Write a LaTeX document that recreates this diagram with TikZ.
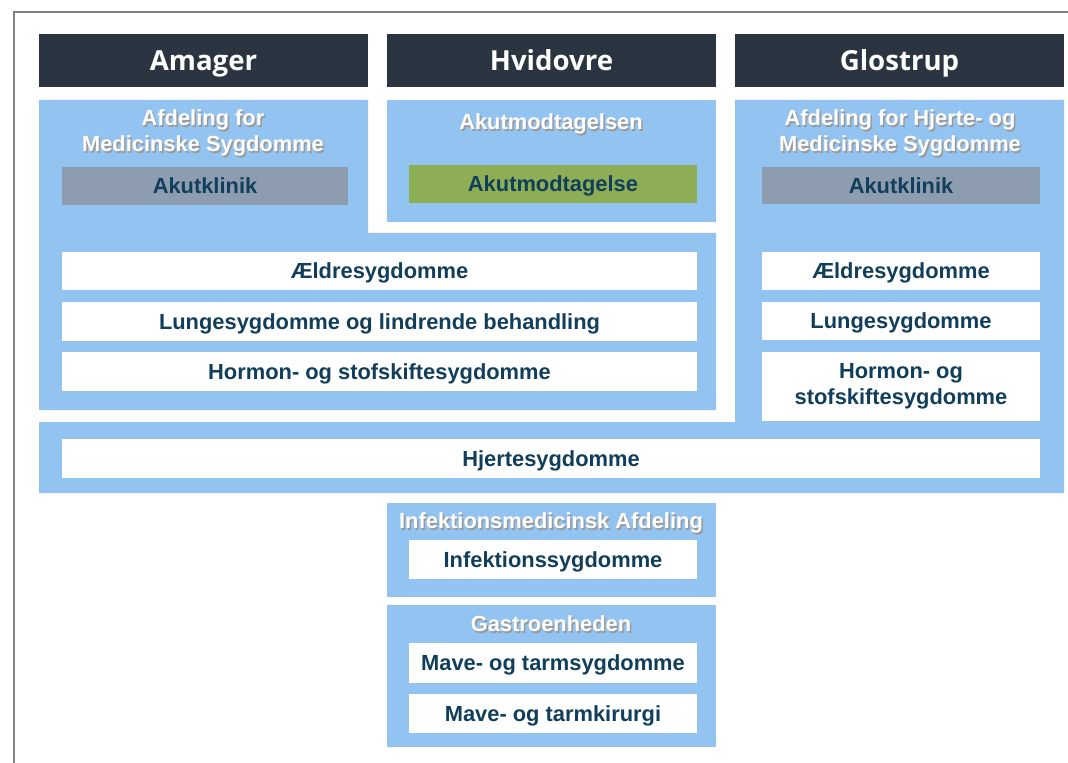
\documentclass[tikz,border=0pt]{standalone}
\usepackage{fontspec}
\setmainfont{Liberation Sans}
\newfontfamily\headfont{Open Sans}
\definecolor{headbg}{HTML}{2B3541}
\definecolor{deptblue}{HTML}{93C4F1}
\definecolor{klinikgray}{HTML}{8E9CB0}
\definecolor{modtgreen}{HTML}{8DAE55}
\definecolor{unittext}{HTML}{113F5B}
\tikzset{
  header/.style={fill=headbg,text=white,inner sep=0pt,minimum width=246.75pt,minimum height=39.75pt,text height=14.8pt,text depth=0pt,font=\headfont\bfseries\fontsize{20.7}{24}\selectfont},
  unit/.style={fill=white,text=unittext,inner sep=0pt,align=center,font=\bfseries\fontsize{16.4}{19.5}\selectfont},
  oneline/.style={text height=11.7pt,text depth=0pt},
  klinik/.style={unit,oneline,fill=klinikgray},
  modt/.style={unit,oneline,fill=modtgreen},
  dept/.style={text=white,inner sep=0pt,align=center,font=\bfseries\fontsize{16.4}{19.5}\selectfont},
  deptshadow/.style={dept,text=black!40}
}
\begin{document}
\begin{tikzpicture}[x=0.75pt,y=-0.75pt]
\useasboundingbox (0,0) rectangle (1068,763);
\fill[white] (0,0) rectangle (1068,763);
\draw[gray,line width=1pt] (14,763) -- (14,12) -- (1068,12);

% sites
\node[header] (amager) at (203.5,61) {Amager};
\node[header] (hvidovre) at (551.5,61) {Hvidovre};
\node[header] (glostrup) at (899.5,61) {Glostrup};

% department areas
\fill[deptblue] (39,100) -- (368,100) -- (368,233) -- (716,233) -- (716,410) -- (39,410) -- cycle;
\fill[deptblue] (387,100) rectangle (716,222);
\fill[deptblue] (735,100) -- (1064,100) -- (1064,493) -- (39,493) -- (39,422) -- (735,422) -- cycle;
\fill[deptblue] (387,503) rectangle (716,597);
\fill[deptblue] (387,605) rectangle (716,747);

% department titles
\node[deptshadow] (amdept-s) at (204.5,134.5) {Afdeling for\\Medicinske Sygdomme};
\node[dept] (amdept) at (203,133) {Afdeling for\\Medicinske Sygdomme};
\node[deptshadow] (hvdept-s) at (552.5,125.5) {Akutmodtagelsen};
\node[dept] (hvdept) at (551,124) {Akutmodtagelsen};
\node[deptshadow] (gldept-s) at (901.5,134.5) {Afdeling for Hjerte- og\\Medicinske Sygdomme};
\node[dept] (gldept) at (900,133) {Afdeling for Hjerte- og\\Medicinske Sygdomme};
\node[deptshadow] (infdept-s) at (552.5,524.5) {Infektionsmedicinsk Afdeling};
\node[dept] (infdept) at (551,523) {Infektionsmedicinsk Afdeling};
\node[deptshadow] (gastro-s) at (552.5,625.5) {Gastroenheden};
\node[dept] (gastro) at (551,624) {Gastroenheden};

% acute units
\node[klinik,minimum width=214.5pt,minimum height=28.5pt] (amklinik) at (205,186) {Akutklinik};
\node[modt,minimum width=216pt,minimum height=28.5pt] (hvmodt) at (553,184) {Akutmodtagelse};
\node[klinik,minimum width=208.5pt,minimum height=27.75pt] (glklinik) at (901,185.5) {Akutklinik};

% specialties
\node[unit,oneline,minimum width=476.25pt,minimum height=28.5pt] (amaeldre) at (379.5,271) {Ældresygdomme};
\node[unit,oneline,minimum width=476.25pt,minimum height=29.25pt] (amlunge) at (379.5,321.5) {Lungesygdomme og lindrende behandling};
\node[unit,oneline,minimum width=476.25pt,minimum height=29.25pt] (amhormon) at (379.5,371.5) {Hormon- og stofskiftesygdomme};
\node[unit,oneline,minimum width=208.5pt,minimum height=28.5pt] (glaeldre) at (901,271) {Ældresygdomme};
\node[unit,oneline,minimum width=208.5pt,minimum height=28.5pt] (gllunge) at (901,321) {Lungesygdomme};
\node[unit,minimum width=208.5pt,minimum height=51.75pt] (glhormon) at (901,386.5) {Hormon- og\\stofskiftesygdomme};
\node[unit,oneline,minimum width=733.5pt,minimum height=29.25pt] (hjerte) at (551,458.5) {Hjertesygdomme};
\node[unit,oneline,minimum width=216pt,minimum height=29.25pt] (infekt) at (553,559.5) {Infektionssygdomme};
\node[unit,oneline,minimum width=216pt,minimum height=30pt] (mave) at (553,663) {Mave- og tarmsygdomme};
\node[unit,oneline,minimum width=216pt,minimum height=29.25pt] (kirurgi) at (553,713.5) {Mave- og tarmkirurgi};
\end{tikzpicture}
\end{document}
